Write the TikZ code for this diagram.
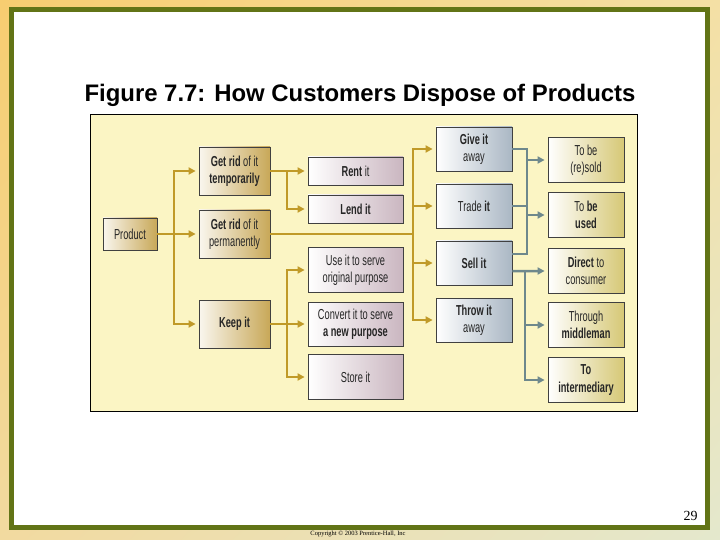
\documentclass[tikz,border=0pt]{standalone}
\usepackage{fontspec}
\setmainfont{Liberation Sans}
\newfontfamily\boxfont[FakeStretch=0.64]{Liberation Sans}
\newfontfamily\slidefont{Liberation Serif}
\usetikzlibrary{arrows.meta,shadings}

\definecolor{bgOrange}{RGB}{247,205,112}
\definecolor{bgPale}{RGB}{244,224,165}
\definecolor{bgSand}{RGB}{242,218,160}
\definecolor{bgGreen}{RGB}{228,232,205}
\definecolor{frameGreen}{RGB}{98,116,22}
\definecolor{panelYellow}{RGB}{251,245,196}
\definecolor{lineGold}{RGB}{192,154,40}
\definecolor{lineSlate}{RGB}{110,136,140}
\definecolor{shadeGold}{RGB}{200,168,88}
\definecolor{shadeMauve}{RGB}{202,182,192}
\definecolor{shadeBlue}{RGB}{170,183,196}
\definecolor{shadeKhaki}{RGB}{214,200,118}

\begin{document}
\begin{tikzpicture}
[x=1bp,y=-1bp,
  goldArrow/.style={-{Triangle[length=7bp,width=7bp]},line width=2.5bp,color=lineGold,shorten >=3bp},%
  goldLine/.style={line width=2.5bp,color=lineGold},%
  grayArrow/.style={-{Triangle[length=7bp,width=7bp]},line width=2.5bp,color=lineSlate,shorten >=3bp},%
  grayLine/.style={line width=2.5bp,color=lineSlate},%
  boxDecorate/.style={shape=rectangle,draw=black!75,line width=0.8bp,inner sep=1bp,
    align=center,text=black!85,font=\boxfont\fontsize{14.5}{17.5}\selectfont},%
  firstBox/.style={boxDecorate,left color=white!90!shadeGold,right color=shadeGold,
    minimum width=71bp,minimum height=48bp},%
  secondBox/.style={boxDecorate,left color=white,right color=shadeMauve,minimum width=95bp},%
  thirdBox/.style={boxDecorate,left color=white,right color=shadeBlue,
    minimum width=76bp,minimum height=44bp},%
  fourthBox/.style={boxDecorate,left color=white,right color=shadeKhaki,
    minimum width=76bp,minimum height=45bp}]
\useasboundingbox (0,0) rectangle (720,540);
%% slide background and frame
\shade[upper left=bgOrange,upper right=bgPale,lower left=bgSand,lower right=bgGreen]
  (0,0) rectangle (720,540);
\draw[frameGreen,line width=5bp,fill=white] (11.5,9.5) rectangle (707.5,527.5);
\node (title) at (360,101.5) [anchor=base,font=\bfseries\fontsize{24}{28}\selectfont]
  {Figure 7.7: How Customers Dispose of Products};
\draw[fill=panelYellow,line width=0.8bp] (90.5,114.5) rectangle (637,411);
%% boxes
\node (product) at (130,234) [firstBox,minimum width=54bp,minimum height=32bp] {Product};
\foreach \nodename/\y/\txt in {temp/171/{\textbf{Get rid} of it\\\textbf{temporarily}},
  perm/234/{\textbf{Get rid} of it\\permanently}, keep/324/{\textbf{Keep it}}}
{
  \node (\nodename) at (234.5,\y) [firstBox] {\txt};
}
\foreach \nodename/\y/\h/\txt in {rent/171/28/{\textbf{Rent} it}, lend/209/28/{\textbf{Lend it}},
  use/270/45/{Use it to serve\\original purpose}, convert/324/44/{Convert it to serve\\\textbf{a new purpose}},
  store/377/45/{Store it}}
{
  \node (\nodename) at (355.5,\y) [secondBox,minimum height=\h bp] {\txt};
}
\foreach \nodename/\y/\txt in {give/149/{\textbf{Give it}\\away}, trade/206/{Trade \textbf{it}},
  sell/263/{\textbf{Sell it}}, throw/320/{\textbf{Throw it}\\away}}
{
  \node (\nodename) at (474,\y) [thirdBox] {\txt};
}
\foreach \nodename/\y/\txt in {resold/160/{To be\\(re)sold}, used/215/{To \textbf{be}\\\textbf{used}},
  direct/271/{\textbf{Direct} to\\consumer}, through/325/{Through\\\textbf{middleman}},
  interm/380/{\textbf{To}\\\textbf{intermediary}}}
{
  \node (\nodename) at (586,\y) [fourthBox] {\txt};
}
%% gold connectors
\coordinate (splitA) at (174,234);
\coordinate (splitB) at (287,171);
\coordinate (splitC) at (287,324);
\coordinate (splitD) at (413,234);
\draw[goldArrow] (product.east) -- (perm.west);
\foreach \endnode in {temp, keep}
{
  \draw[goldArrow] (splitA) |- (\endnode.west);
}
\draw[goldArrow] (temp.east) -- (rent.west);
\draw[goldArrow] (splitB) |- (lend.west);
\draw[goldArrow] (keep.east) -- (convert.west);
\foreach \endnode in {use, store}
{
  \draw[goldArrow] (splitC) |- (\endnode.west);
}
\draw[goldLine] (perm.east) -- (splitD);
\foreach \endnode in {give, trade, sell, throw}
{
  \draw[goldArrow] (splitD) |- (\endnode.west);
}
%% gray connectors
\coordinate (joinA) at (527,206);
\coordinate (joinB) at (525,271);
\draw[grayLine] (give.east) -| (joinA) |- ([yshift=9bp]sell.east);
\draw[grayLine] (trade.east) -- (joinA);
\foreach \endnode in {resold, used}
{
  \draw[grayArrow] (joinA) |- (\endnode.west);
}
\draw[grayArrow] ([yshift=-8bp]sell.east) -- (direct.west);
\foreach \endnode in {through, interm}
{
  \draw[grayArrow] (joinB) |- (\endnode.west);
}
%% footer
\node (page) at (701,520) [anchor=base east,font=\slidefont\fontsize{14}{16}\selectfont] {29};
\node (copy) at (358,535) [anchor=base,font=\slidefont\fontsize{6.5}{7}\selectfont]
  {Copyright \textcopyright\ 2003 Prentice-Hall, Inc};
\end{tikzpicture}
\end{document}
